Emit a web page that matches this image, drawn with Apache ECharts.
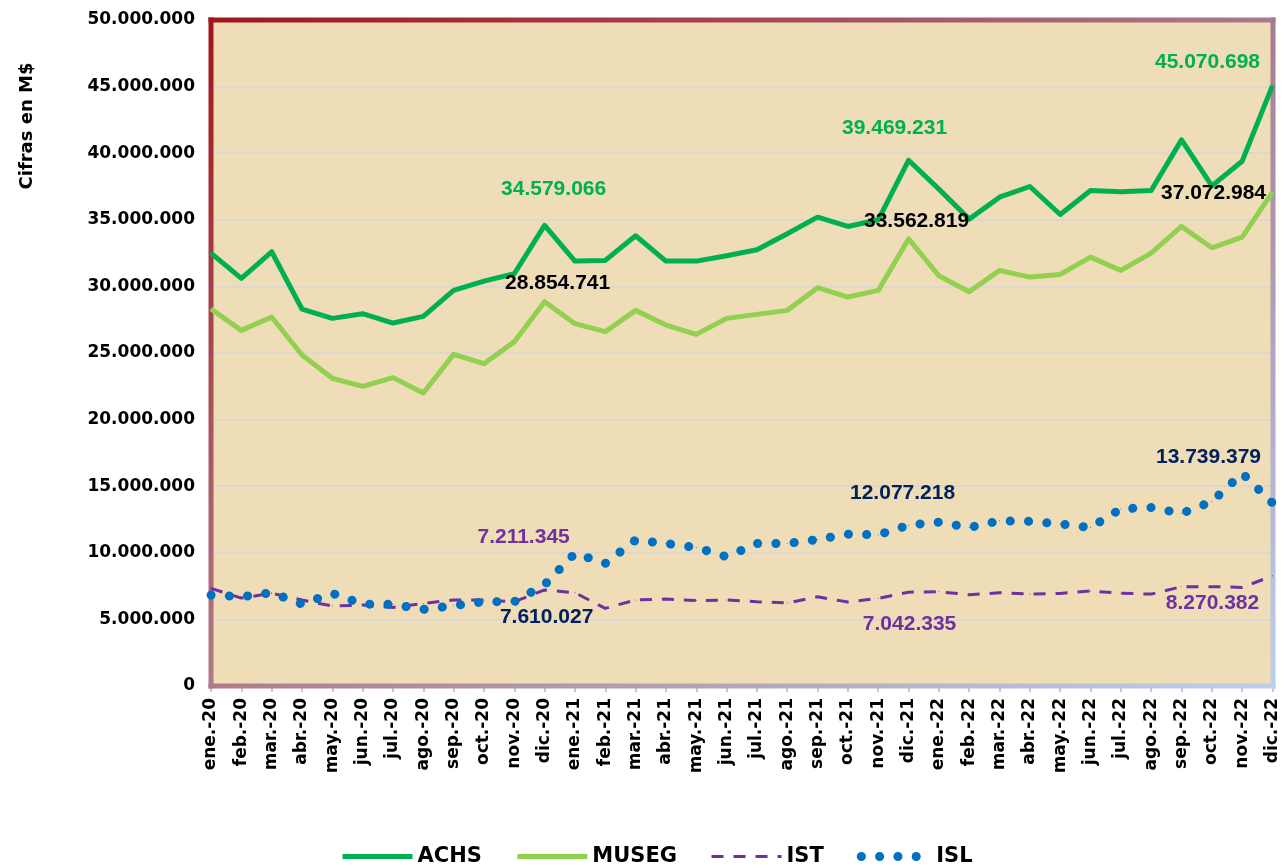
<!DOCTYPE html>
<html>
<head>
<meta charset="utf-8">
<script src="https://cdn.jsdelivr.net/npm/echarts@6/dist/echarts.min.js"></script>
<style>
html,body{margin:0;padding:0;background:#fff;}
#chart{width:1281px;height:866px;}
</style>
</head>
<body>
<div id="chart"></div>
<script>
const categories = ['ene.-20','feb.-20','mar.-20','abr.-20','may.-20','jun.-20','jul.-20','ago.-20','sep.-20','oct.-20','nov.-20','dic.-20',
  'ene.-21','feb.-21','mar.-21','abr.-21','may.-21','jun.-21','jul.-21','ago.-21','sep.-21','oct.-21','nov.-21','dic.-21',
  'ene.-22','feb.-22','mar.-22','abr.-22','may.-22','jun.-22','jul.-22','ago.-22','sep.-22','oct.-22','nov.-22','dic.-22'];

const achs = [32500000,30600000,32600000,28300000,27600000,27950000,27250000,27750000,29700000,30400000,30950000,34579066,
  31900000,31950000,33800000,31900000,31900000,32300000,32750000,33950000,35200000,34500000,35000000,39469231,
  37300000,35050000,36700000,37500000,35400000,37200000,37100000,37200000,41000000,37550000,39400000,45070698];

const museg = [28300000,26700000,27700000,24850000,23100000,22500000,23150000,22000000,24900000,24200000,25850000,28854741,
  27200000,26600000,28200000,27100000,26400000,27600000,27900000,28200000,29900000,29200000,29700000,33562819,
  30800000,29600000,31200000,30700000,30900000,32200000,31200000,32500000,34500000,32900000,33700000,37072984];

const ist = [7330000,6600000,6960000,6460000,6000000,6080000,5900000,6200000,6460000,6460000,6330000,7211345,
  7000000,5830000,6460000,6530000,6410000,6460000,6330000,6230000,6700000,6300000,6580000,7042335,
  7080000,6850000,7000000,6900000,6950000,7130000,6960000,6900000,7460000,7460000,7400000,8270382];

const isl = [6830000,6700000,7000000,6150000,6960000,6150000,6130000,5750000,6030000,6330000,6330000,7610027,
  9960000,9200000,10960000,10700000,10400000,9700000,10700000,10700000,11000000,11400000,11350000,12077218,
  12300000,11900000,12400000,12360000,12160000,11900000,13300000,13400000,12960000,13840000,15970000,13739379];

const labelIdx = [11, 23, 35];

function fmt(v){ return String(Math.round(v)).replace(/\B(?=(\d{3})+(?!\d))/g, '.'); }

function withLabels(values, color, offsets){
  return values.map(function(v, i){
    const k = labelIdx.indexOf(i);
    if (k < 0) return v;
    return {value: v, label: {show: true, position: 'top', offset: offsets[k], color: color,
      fontFamily: 'Liberation Sans', fontWeight: 'bold', fontSize: 21, formatter: function(p){ return fmt(p.value); }}};
  });
}

const chart = echarts.init(document.getElementById('chart'), null, {renderer: 'canvas'});

const G = echarts.graphic.LinearGradient;
const cRed = '#A01519', cMauveL = '#AE7C88', cMauveT = '#A87A90', cBlue = '#BBD0EE';

const option = {
  animation: false,
  backgroundColor: '#ffffff',
  grid: {
    left: 211, right: 8, top: 20, bottom: 180,
    show: true,
    backgroundColor: '#EEDDB7',
    borderWidth: 0,
    containLabel: false
  },
  graphic: [
    {type: 'rect', z: 1, silent: true, shape: {x: 208.5, y: 17.5, width: 5, height: 671},
      style: {fill: new G(0, 0, 0, 1, [{offset: 0, color: cRed}, {offset: 1, color: cMauveL}])}},
    {type: 'rect', z: 1, silent: true, shape: {x: 1270.5, y: 17.5, width: 5, height: 671},
      style: {fill: new G(0, 0, 0, 1, [{offset: 0, color: cMauveT}, {offset: 1, color: cBlue}])}},
    {type: 'rect', z: 1, silent: true, shape: {x: 208.5, y: 17.5, width: 1067, height: 5},
      style: {fill: new G(0, 0, 1, 0, [{offset: 0, color: cRed}, {offset: 0.45, color: '#A6404E'}, {offset: 1, color: cMauveT}])}},
    {type: 'rect', z: 1, silent: true, shape: {x: 208.5, y: 683.5, width: 1067, height: 5},
      style: {fill: new G(0, 0, 1, 0, [{offset: 0, color: cMauveL}, {offset: 1, color: cBlue}])}},
    {
      type: 'text',
      x: 27, y: 126,
      rotation: Math.PI / 2,
      style: {
        text: 'Cifras en M$',
        font: 'bold 18px "DejaVu Sans"',
        fill: '#000',
        align: 'center',
        verticalAlign: 'middle'
      }
    }
  ],
  legend: {
    left: 340, top: 846, padding: 0,
    itemWidth: 70, itemHeight: 22, itemGap: 33,
    itemStyle: {color: 'rgba(0,0,0,0)', borderWidth: 0},
    textStyle: {fontFamily: 'DejaVu Sans', fontWeight: 'bold', fontSize: 21, color: '#000'},
    data: [
      {name: 'ACHS', lineStyle: {width: 5}},
      {name: 'MUSEG', lineStyle: {width: 5}},
      {name: 'IST', lineStyle: {width: 3}},
      {name: 'ISL', lineStyle: {width: 9, cap: 'round'}}
    ]
  },
  xAxis: {
    type: 'category',
    data: categories,
    boundaryGap: false,
    axisLine: {show: false},
    axisTick: {show: true, length: 6, interval: 0, lineStyle: {color: '#C6C6D0', width: 2}},
    axisLabel: {
      interval: 0, rotate: 90, margin: 12,
      fontFamily: 'DejaVu Sans', fontWeight: 'bold', fontSize: 17, color: '#000'
    },
    splitLine: {show: false}
  },
  yAxis: {
    type: 'value',
    min: 0, max: 50000000, interval: 5000000,
    axisLine: {show: false},
    axisTick: {show: false},
    axisLabel: {
      margin: 16,
      fontFamily: 'DejaVu Sans', fontWeight: 'bold', fontSize: 17, color: '#000',
      formatter: function(v){ return fmt(v); }
    },
    splitLine: {show: true, lineStyle: {color: '#D6D6DA', width: 1.5}}
  },
  series: [
    {
      name: 'ACHS', type: 'line',
      data: withLabels(achs, '#00B050', [[9,-20],[-14,-16],[-65,-7]]),
      symbol: 'circle', symbolSize: 1, showSymbol: true,
      itemStyle: {color: '#00B050'},
      lineStyle: {color: '#00B050', width: 5, join: 'round'},
      clip: false
    },
    {
      name: 'MUSEG', type: 'line',
      data: withLabels(museg, '#000000', [[13,-2],[8,-2],[-59,17]]),
      symbol: 'circle', symbolSize: 1, showSymbol: true,
      itemStyle: {color: '#92D050'},
      lineStyle: {color: '#92D050', width: 5, join: 'round'},
      clip: false
    },
    {
      name: 'IST', type: 'line',
      data: withLabels(ist, '#7030A0', [[-21,-37],[1,48],[-60,43]]),
      symbol: 'circle', symbolSize: 1, showSymbol: true,
      itemStyle: {color: '#7030A0'},
      lineStyle: {color: '#7030A0', width: 3, type: [12, 10]},
      clip: false
    },
    {
      name: 'ISL', type: 'line',
      data: withLabels(isl, '#002060', [[2,49],[-6,-16],[-64,-30]]),
      symbol: 'circle', symbolSize: 1, showSymbol: true,
      itemStyle: {color: '#0070C0'},
      lineStyle: {color: '#0070C0', width: 9, type: [0.1, 18.2], cap: 'round'},
      clip: false
    }
  ]
};

chart.setOption(option);
</script>
</body>
</html>
